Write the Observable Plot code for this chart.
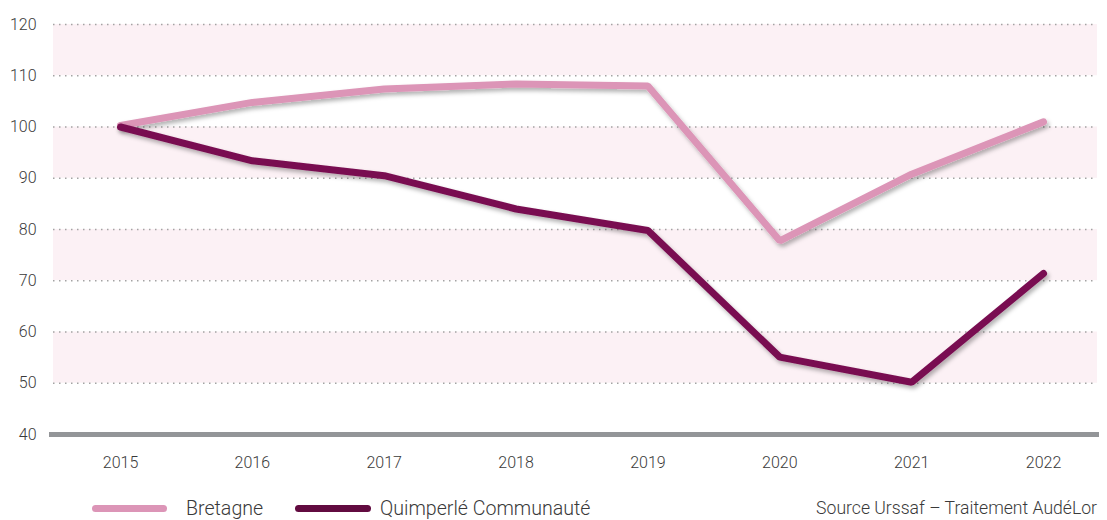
<!DOCTYPE html>
<html>
<head>
<meta charset="utf-8">
<script src="https://cdn.jsdelivr.net/npm/d3@7"></script>
<script src="https://cdn.jsdelivr.net/npm/@observablehq/plot@0.6"></script>
<style>
  html, body { margin: 0; padding: 0; background: #fff; }
  body { width: 1107px; height: 520px; position: relative; font-family: Roboto, "Noto Sans", sans-serif; color: #3a3a3a; }
  #chart svg { display: block; }
  .legend { position: absolute; left: 0; top: 495px; width: 1107px; height: 26px; font-size: 19.6px; font-weight: 300; }
  .legend .item { position: absolute; top: 0; display: flex; align-items: center; height: 26px; }
  .legend .sw { display: inline-block; height: 7px; border-radius: 4px; }
  .source { position: absolute; right: 10px; top: 0; height: 26px; line-height: 26px; font-size: 17.6px; font-weight: 300; }
</style>
</head>
<body>
<div id="chart"></div>
<div class="legend">
  <div class="item" style="left:92px"><span class="sw" style="width:75px;background:#dc95b7"></span><span style="margin-left:19px">Bretagne</span></div>
  <div class="item" style="left:295px"><span class="sw" style="width:76px;background:#620b40"></span><span style="margin-left:9px">Quimperlé Communauté</span></div>
  <div class="source">Source Urssaf – Traitement AudéLor</div>
</div>
<script>
const years = [2015, 2016, 2017, 2018, 2019, 2020, 2021, 2022];
const bretagne = [100.3, 104.8, 107.4, 108.4, 108.0, 77.8, 90.8, 101.0];
const quimperle = [100.0, 93.4, 90.5, 84.0, 79.8, 55.1, 50.2, 71.4];
const seriesNames = ["Bretagne", "Quimperlé Communauté"];
const seriesColors = ["#dc95b7", "#790f51"];
const yTicks = [40, 50, 60, 70, 80, 90, 100, 110, 120];
const bands = [[50, 60], [70, 80], [90, 100], [110, 120]];

const rows = [];
years.forEach((yr, i) => {
  rows.push({year: yr, value: bretagne[i], series: seriesNames[0]});
  rows.push({year: yr, value: quimperle[i], series: seriesNames[1]});
});
const bandRows = bands.map(([a, b]) => ({y1: a, y2: b}));

const chart = Plot.plot({
  width: 1107,
  height: 484,
  marginLeft: 53,
  marginRight: 10,
  marginTop: 24,
  marginBottom: 50,
  style: {fontFamily: "Roboto, 'Noto Sans', sans-serif", fontSize: "16px", color: "#3a3a3a", fontWeight: 300, background: "white"},
  x: {domain: [2015, 2022], range: [120, 1043], ticks: years, tickFormat: d => String(d), tickSize: 0, tickPadding: 22, label: null},
  y: {domain: [40, 120], ticks: yTicks, tickSize: 0, tickPadding: 17, label: null},
  color: {domain: seriesNames, range: seriesColors},
  marks: [
    Plot.rect(bandRows, {y1: "y1", y2: "y2", fill: "#fcf1f5"}),
    Plot.ruleY(yTicks.filter(t => t > 40), {stroke: "#a3a3a3", strokeWidth: 1.5, strokeDasharray: "1.5 4.5"}),
    Plot.ruleY([40], {stroke: "#939598", strokeWidth: 5}),
    Plot.line(rows.filter(r => r.series === seriesNames[0]), {x: "year", y: "value", stroke: "series", strokeWidth: 7, strokeLinecap: "round", strokeLinejoin: "miter"}),
    Plot.line(rows.filter(r => r.series === seriesNames[1]), {x: "year", y: "value", stroke: "series", strokeWidth: 7, strokeLinecap: "round", strokeLinejoin: "miter"})
  ]
});

const ns = "http://www.w3.org/2000/svg";
const defs = document.createElementNS(ns, "defs");
defs.innerHTML = '<filter id="shadow" x="-5%" y="-20%" width="110%" height="140%"><feDropShadow dx="2" dy="3" stdDeviation="2" flood-color="#000" flood-opacity="0.3"/></filter>';
chart.insertBefore(defs, chart.firstChild);
chart.querySelectorAll('g[aria-label="line"]').forEach(g => g.setAttribute("filter", "url(#shadow)"));
chart.querySelectorAll('g[aria-label="rule"] line').forEach(l => {
  if (l.getAttribute("stroke-width") === "5" || l.parentNode.getAttribute("stroke-width") === "5") {
    l.setAttribute("x1", 49); l.setAttribute("x2", 1099);
  }
});
document.getElementById("chart").appendChild(chart);
</script>
</body>
</html>
